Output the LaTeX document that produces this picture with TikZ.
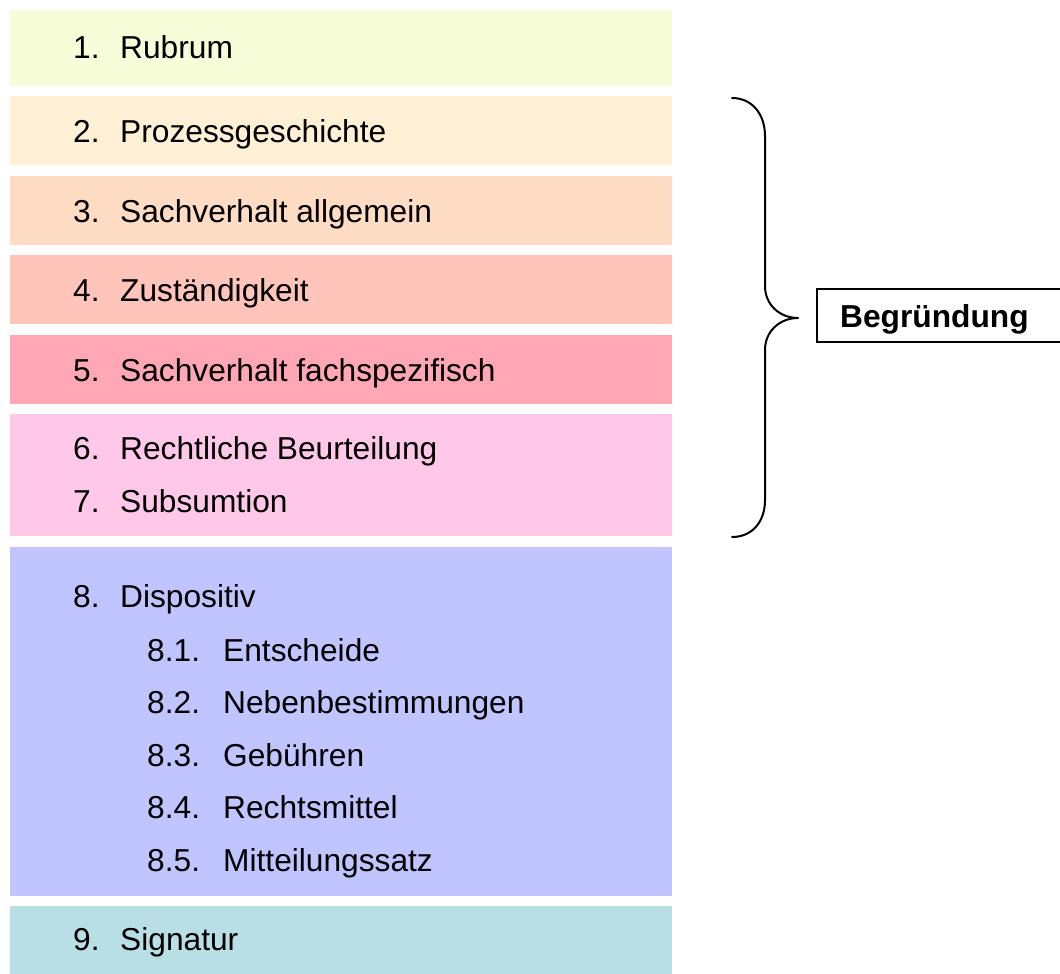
\documentclass[tikz,border=0pt]{standalone}
\usepackage{fontspec}
\setmainfont{Liberation Sans}
\definecolor{cA}{RGB}{246,253,216}
\definecolor{cB}{RGB}{255,240,214}
\definecolor{cC}{RGB}{255,220,195}
\definecolor{cD}{RGB}{255,196,186}
\definecolor{cE}{RGB}{255,167,180}
\definecolor{cF}{RGB}{255,200,232}
\definecolor{cG}{RGB}{192,196,255}
\definecolor{cH}{RGB}{184,222,230}
\begin{document}
\begin{tikzpicture}[x=1pt,y=-1pt,
  band/.style={draw=none},
  lbl/.style={anchor=base west,inner sep=0pt,font=\fontsize{31.7}{38}\selectfont},
  brace/.style={line width=2pt,line cap=round,line join=round}]
\useasboundingbox (0,0) rectangle (1060,974);
\fill[cA] (10,10) rectangle (672,86);
\fill[cB] (10,96) rectangle (672,165);
\fill[cC] (10,176) rectangle (672,245);
\fill[cD] (10,255) rectangle (672,324);
\fill[cE] (10,335) rectangle (672,404);
\fill[cF] (10,414) rectangle (672,536);
\fill[cG] (10,547) rectangle (672,896);
\fill[cH] (10,906) rectangle (672,974);
% items
\node[lbl] (n1) at (73,59) {1.};   \node[lbl] (t1) at (120,59) {Rubrum};
\node[lbl] (n2) at (73,142) {2.};  \node[lbl] (t2) at (120,142) {Prozessgeschichte};
\node[lbl] (n3) at (73,222) {3.};  \node[lbl] (t3) at (120,222) {Sachverhalt allgemein};
\node[lbl] (n4) at (73,301) {4.};  \node[lbl] (t4) at (120,301) {Zuständigkeit};
\node[lbl] (n5) at (73,381) {5.};  \node[lbl] (t5) at (120,381) {Sachverhalt fachspezifisch};
\node[lbl] (n6) at (73,459) {6.};  \node[lbl] (t6) at (120,459) {Rechtliche Beurteilung};
\node[lbl] (n7) at (73,512) {7.};  \node[lbl] (t7) at (120,512) {Subsumtion};
\node[lbl] (n8) at (73,607) {8.};  \node[lbl] (t8) at (120,607) {Dispositiv};
\node[lbl] (n81) at (147,661) {8.1.}; \node[lbl] (t81) at (223,661) {Entscheide};
\node[lbl] (n82) at (147,713) {8.2.}; \node[lbl] (t82) at (223,713) {Nebenbestimmungen};
\node[lbl] (n83) at (147,766) {8.3.}; \node[lbl] (t83) at (223,766) {Gebühren};
\node[lbl] (n84) at (147,818) {8.4.}; \node[lbl] (t84) at (223,818) {Rechtsmittel};
\node[lbl] (n85) at (147,871) {8.5.}; \node[lbl] (t85) at (223,871) {Mitteilungssatz};
\node[lbl] (n9) at (73,950) {9.};  \node[lbl] (t9) at (120,950) {Signatur};
% brace
\coordinate (bt) at (732,98);
\coordinate (bm) at (798,318);
\coordinate (bb) at (732,537);
\draw[brace] (bt) .. controls (752,98) and (765,114) .. (765,136)
  -- (765,286) .. controls (765,305) and (780,318) .. (bm)
  .. controls (780,318) and (765,331) .. (765,350)
  -- (765,500) .. controls (765,522) and (752,537) .. (bb);
% box
\draw[line width=1.2pt] (817,289) rectangle (1070,342);
\node[lbl,font=\fontsize{31.7}{38}\selectfont\bfseries] (beg) at (840,327) {Begründung};
\end{tikzpicture}
\end{document}
